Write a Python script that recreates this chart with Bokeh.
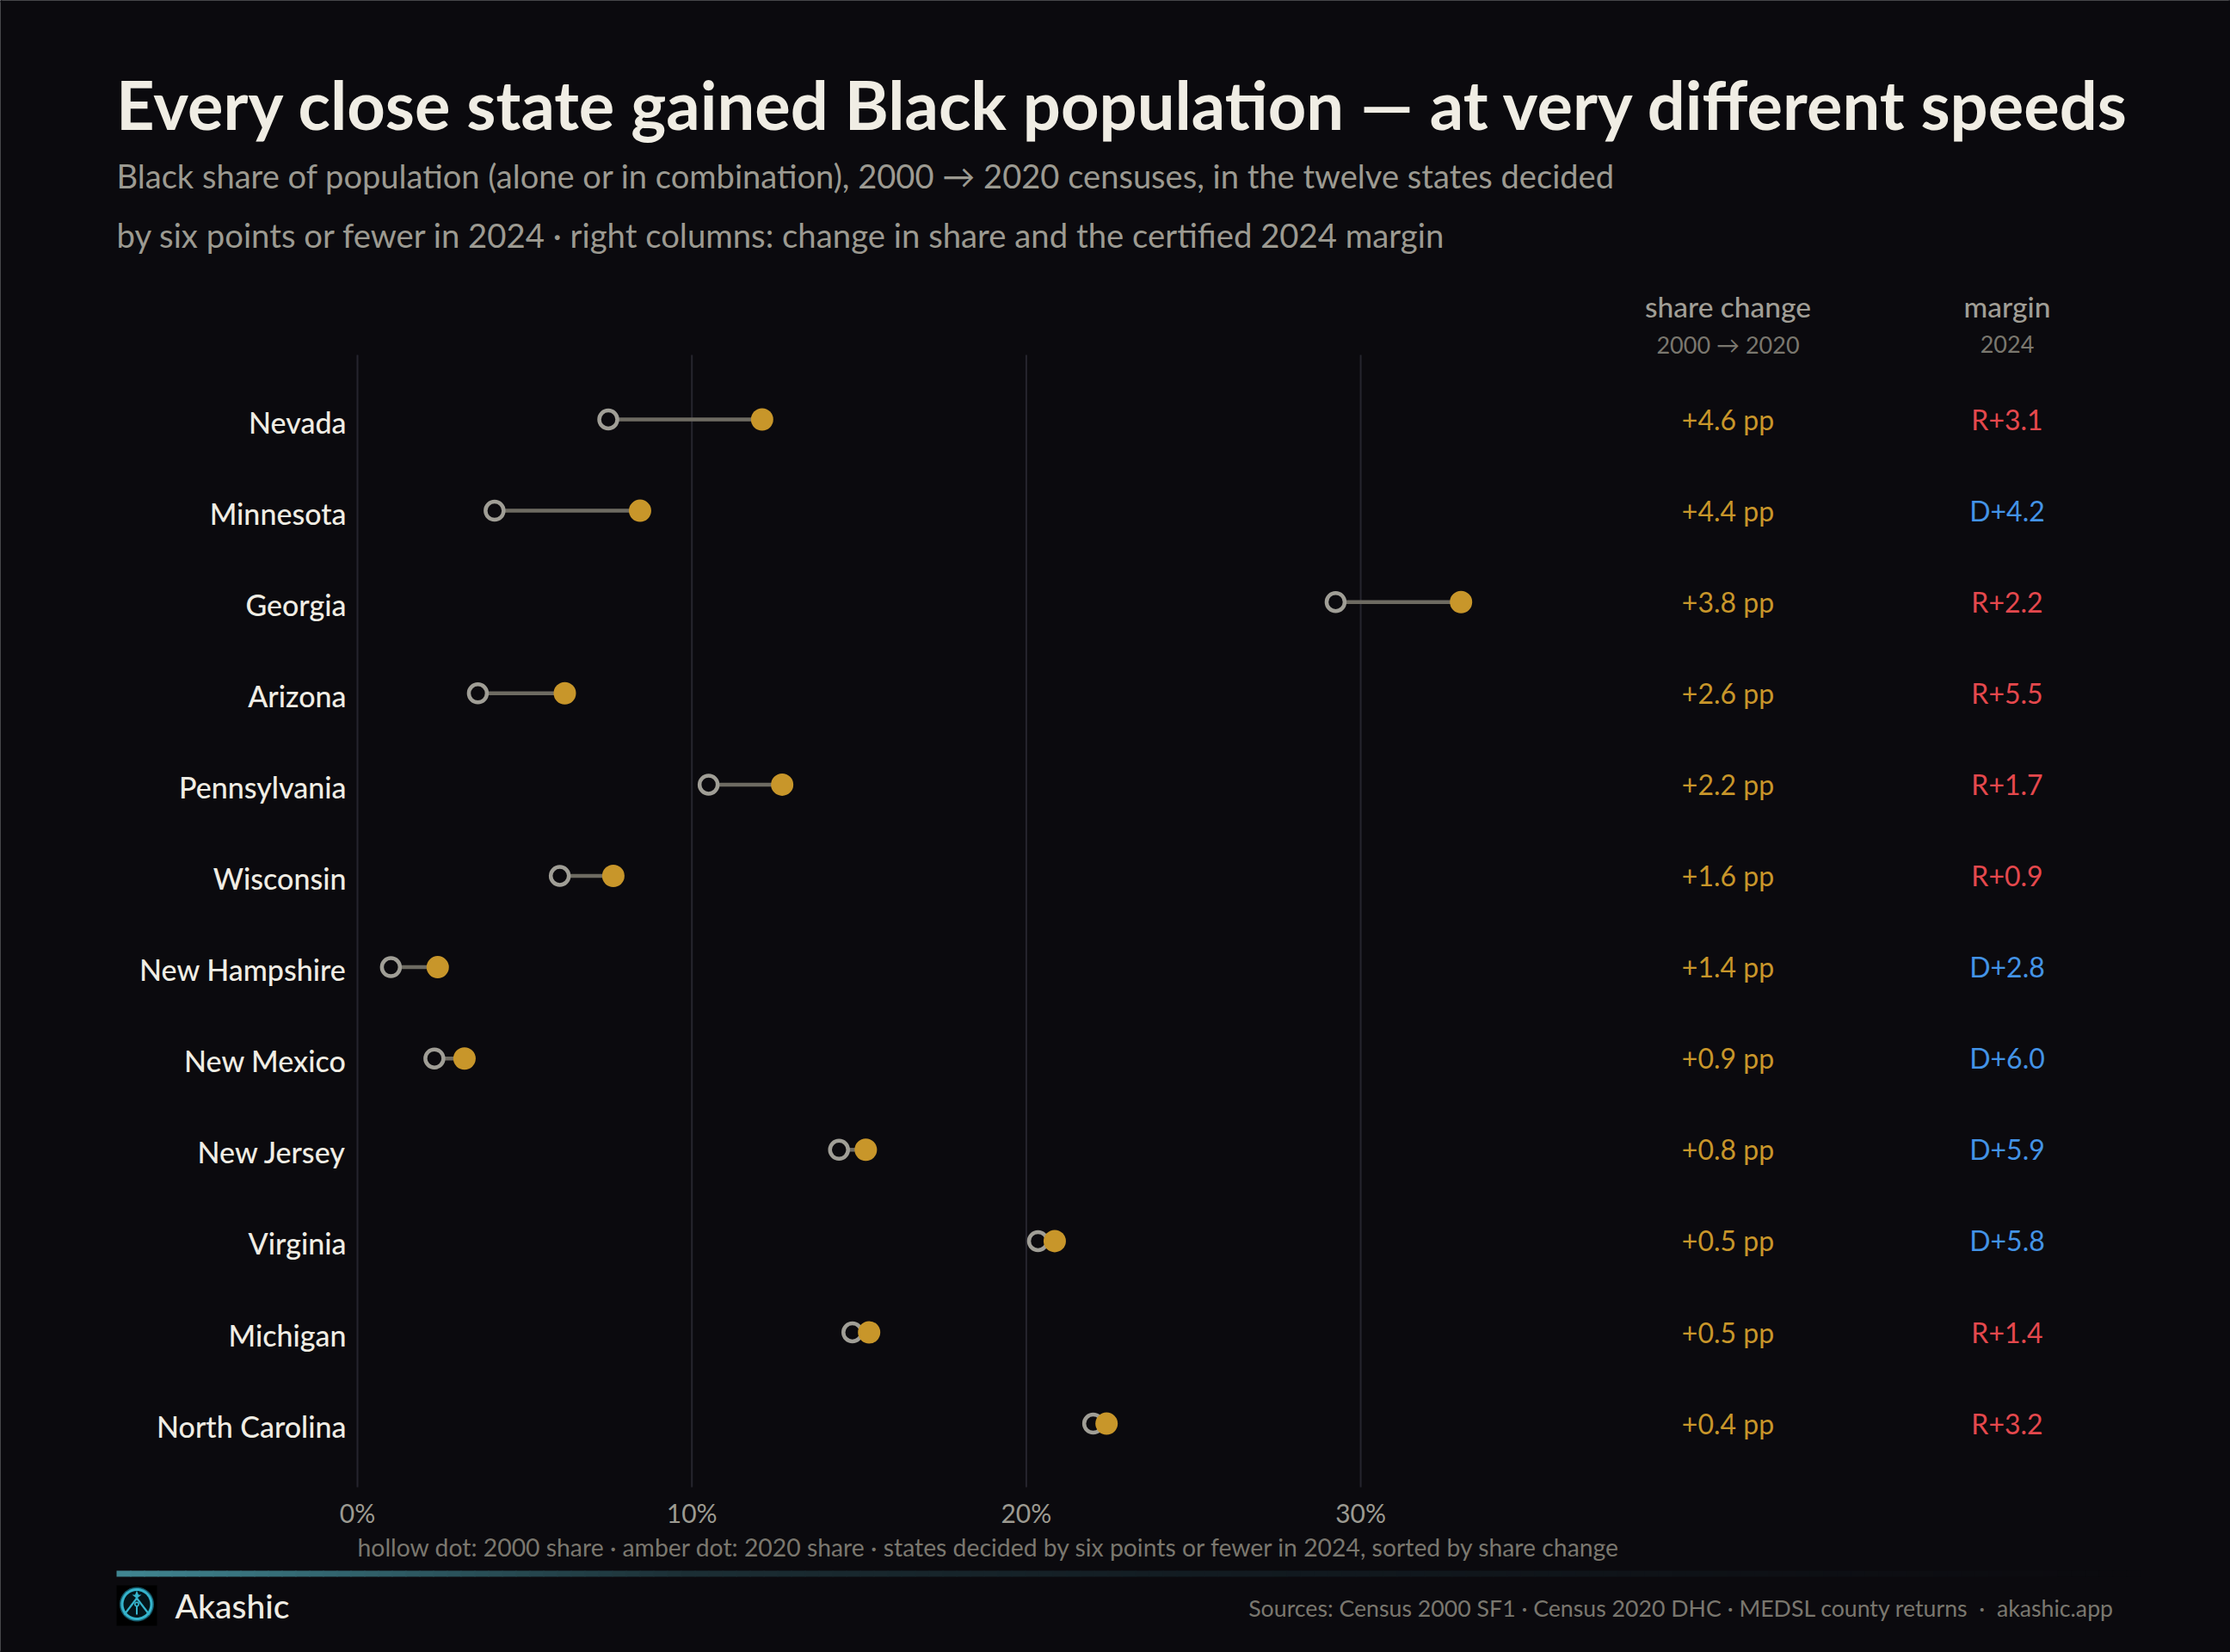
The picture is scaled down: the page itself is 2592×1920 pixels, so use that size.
import numpy as np
from bokeh.plotting import figure
from bokeh.core.properties import value
from bokeh.models import Range1d, LinearAxis, FixedTicker, PrintfTickFormatter, Label, BoxAnnotation, PolyAnnotation, ColumnDataSource
from bokeh.embed import file_html
from bokeh.resources import INLINE

states = ["Nevada", "Minnesota", "Georgia", "Arizona", "Pennsylvania", "Wisconsin", "New Hampshire",
          "New Mexico", "New Jersey", "Virginia", "Michigan", "North Carolina"]
share_2000 = [7.5, 4.1, 29.25, 3.6, 10.5, 6.05, 1.0, 2.3, 14.4, 20.35, 14.8, 22.0]
share_2020 = [12.1, 8.45, 33.0, 6.2, 12.7, 7.65, 2.4, 3.2, 15.2, 20.85, 15.3, 22.4]
change_labels = ["+4.6 pp", "+4.4 pp", "+3.8 pp", "+2.6 pp", "+2.2 pp", "+1.6 pp", "+1.4 pp",
                 "+0.9 pp", "+0.8 pp", "+0.5 pp", "+0.5 pp", "+0.4 pp"]
margin_labels = ["R+3.1", "D+4.2", "R+2.2", "R+5.5", "R+1.7", "R+0.9", "D+2.8", "D+6.0", "D+5.9", "D+5.8", "R+1.4", "R+3.2"]
x_ticks = [0, 10, 20, 30]

BG = "#0b0a0e"; CREAM = "#f0ede4"; AMBER = "#c8962a"; MUTED = "#9c9a91"; DIM = "#7a776e"
RED = "#e5484d"; BLUE = "#4393e6"; FONT = "Lato"; MEDIUM = "Lato Medium"

# layout, in image pixels
W, H = 2592, 1920
G_T, G_B = 412, 1728
X0, PX_PER = 415, 38.87
Y0, ROW = 487, 106.1
BASE_SHIFT = 0.385

rows = list(range(len(states)))


def vx(px):
    return (px - X0) / PX_PER


def vy(py):
    return (py - Y0) / ROW


p = figure(width=W, height=H, output_backend="svg", toolbar_location=None,
           x_range=Range1d(vx(0), vx(W)), y_range=Range1d(vy(H), vy(0)),
           min_border_left=0, min_border_right=0, min_border_top=0, min_border_bottom=0,
           background_fill_color=BG, border_fill_color=BG, outline_line_color=None)

# real axes, fixed inside the full-canvas frame
ax = p.xaxis[0]
ax.fixed_location = vy(G_B)
ax.ticker = FixedTicker(ticks=x_ticks)
ax.formatter = PrintfTickFormatter(format="%d%%")
ax.axis_line_color = None
ax.major_tick_line_color = None
ax.minor_tick_line_color = None
ax.major_label_text_font = FONT
ax.major_label_text_font_size = "30px"
ax.major_label_text_color = MUTED
ax.major_label_standoff = 5
p.xgrid.visible = False
p.ygrid.visible = False
p.yaxis.visible = False

# gridlines stop at the plot band, so they are drawn from the tick list
p.segment(x0=x_ticks, x1=x_ticks, y0=[vy(G_T)] * len(x_ticks), y1=[vy(G_B)] * len(x_ticks),
          line_color="#26252e", line_width=2)

d = 2.5 / ROW
p.extra_y_ranges["labels"] = Range1d(vy(H) - d, vy(0) - d)
yax = LinearAxis(y_range_name="labels", ticker=FixedTicker(ticks=rows), fixed_location=vx(410),
                 major_label_overrides={r: s for r, s in zip(rows, states)})
yax.axis_line_color = None
yax.major_tick_line_color = None
yax.minor_tick_line_color = None
yax.major_label_text_font = MEDIUM
yax.major_label_text_font_size = "34px"
yax.major_label_text_color = CREAM
yax.major_label_standoff = 2
p.add_layout(yax, "left")

# dumbbells
src = ColumnDataSource(dict(state=states, y=rows, a=share_2000, b=share_2020))
p.segment(x0="a", y0="y", x1="b", y1="y", source=src, line_color="#6e6b62", line_width=4.5)
p.scatter(x="a", y="y", source=src, size=21, fill_color=BG, line_color="#a09e96", line_width=4.5)
p.scatter(x="b", y="y", source=src, size=26, fill_color=AMBER, line_color=None)

# right-hand columns
COL1, COL2 = vx(2008), vx(2332.5)
p.text(x=[COL1] * len(rows), y=rows, text=change_labels, text_color=AMBER, text_font=value(FONT),
       text_font_size="32px", text_align="center", text_baseline="alphabetic", y_offset=-0.5)
p.text(x=[COL2] * len(rows), y=rows, text=margin_labels,
       text_color=[RED if m[0] == "R" else BLUE for m in margin_labels], text_font=value(FONT),
       text_font_size="32px", text_align="center", text_baseline="alphabetic", y_offset=-0.5)


def lab(text, px, py, size, color, align="left", style="normal", font=FONT):
    p.add_layout(Label(x=px, y=H - py + BASE_SHIFT * size, x_units="screen", y_units="screen", text=text,
                       text_font=font, text_font_size=f"{size}px", text_color=color,
                       text_align=align, text_baseline="alphabetic", text_font_style=style))


lab("Every close state gained Black population \u2014 at very different speeds", 134.5, 150, 77.7, CREAM, style="bold")
lab("Black share of population (alone or in combination), 2000 \u2192 2020 censuses, in the twelve states decided", 135, 218, 38.1, MUTED)
lab("by six points or fewer in 2024 \u00b7 right columns: change in share and the certified 2024 margin", 135, 287.5, 38.3, MUTED)
lab("share change", 2008, 368, 33.5, "#a09e96", "center", font=MEDIUM)
lab("2000 \u2192 2020", 2008, 410, 27, DIM, "center")
lab("margin", 2332.5, 368, 33.5, "#a09e96", "center", font=MEDIUM)
lab("2024", 2332.5, 410, 27, DIM, "center")
lab("hollow dot: 2000 share \u00b7 amber dot: 2020 share \u00b7 states decided by six points or fewer in 2024, sorted by share change", 415, 1808, 28.35, DIM)
lab("Akashic", 203, 1881, 39, CREAM, font=MEDIUM)
lab("Sources: Census 2000 SF1 \u00b7 Census 2020 DHC \u00b7 MEDSL county returns\u00a0 \u00b7 \u00a0akashic.app", 2457, 1878.5, 26.7, DIM, "right")


def box(x0, x1, y0, y1, color):
    p.add_layout(BoxAnnotation(left=x0, right=x1, top=H - y0, bottom=H - y1,
                               left_units="screen", right_units="screen", top_units="screen", bottom_units="screen",
                               fill_color=color, fill_alpha=1, line_color=None))


# cover the hairline the svg canvas leaves on its edge
box(-2, W + 2, -2, 2, BG)
box(-2, W + 2, H - 2, H + 2, BG)
box(-2, 2, -2, H + 2, BG)
box(W - 2, W + 2, -2, H + 2, BG)

# gradient rule
stops_x = [135, 800, 1400, 2473]
stops_c = np.array([[0x40, 0x86, 0x92], [0x1b, 0x2e, 0x34], [0x12, 0x1b, 0x21], [0x0b, 0x0a, 0x0e]], float)
for e in np.arange(135, 2473, 16):
    c = [int(round(np.interp(e + 8, stops_x, stops_c[:, i]))) for i in range(3)]
    box(e, e + 17, 1825, 1832, "#%02x%02x%02x" % tuple(c))

# logo
box(135, 182, 1842, 1889, "#000000")


def poly(pts, color):
    pts = np.array(pts, float)
    p.add_layout(PolyAnnotation(xs=list(pts[:, 0]), ys=list(H - pts[:, 1]), xs_units="screen", ys_units="screen",
                                fill_color=color, fill_alpha=1, line_color=None))


def circle(cx, cy, r, color):
    t = np.linspace(0, 2 * np.pi, 48)
    poly(np.c_[cx + r * np.cos(t), cy + r * np.sin(t)], color)


def bar(a, b, w, color):
    a, b = np.array(a, float), np.array(b, float)
    n = np.array([-(b - a)[1], (b - a)[0]]); n = n / np.hypot(*n) * w / 2
    poly([a + n, b + n, b - n, a - n], color)


TEAL = "#35b4cc"
circle(158.5, 1864, 20, "#155a6b")
circle(158.5, 1864, 18.5, TEAL)
circle(158.5, 1864, 15.5, "#04151a")
bar((158.5, 1857), (144, 1876), 2.2, TEAL)
bar((158.5, 1857), (173, 1876), 2.2, TEAL)
poly([(158.5, 1848), (160.5, 1853), (164, 1853), (160, 1856), (158.5, 1859), (157, 1856), (153, 1853), (156.5, 1853)], TEAL)
circle(158.5, 1864, 3, TEAL)
circle(158.5, 1864, 1.3, "#04151a")
bar((158.5, 1866), (158.5, 1876), 2, TEAL)

TEMPLATE = """<!DOCTYPE html>
<html lang="en"><head><meta charset="utf-8"><title>{{ title }}</title>
{{ bokeh_css }}
{{ bokeh_js }}
<style>html,body{background:#0b0a0e;overflow:hidden;margin:0;padding:0}</style>
</head><body>
{{ plot_div }}
{{ plot_script }}
</body></html>"""

open("out.html", "w").write(file_html(p, INLINE, template=TEMPLATE))
